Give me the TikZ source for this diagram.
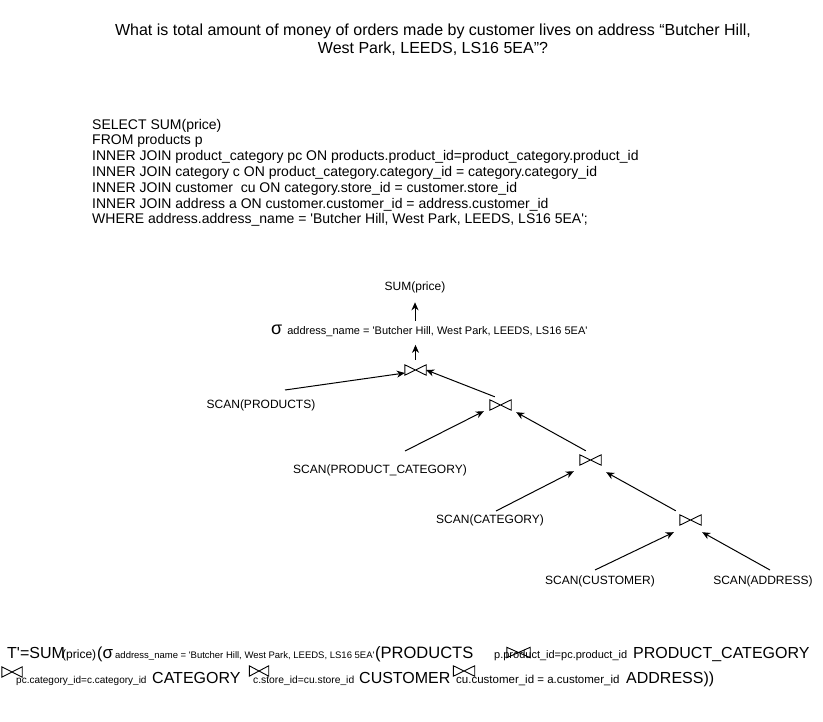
\documentclass[tikz,border=0pt]{standalone}
\usepackage{fontspec}
\setmainfont{Liberation Sans}[Ligatures=TeXOff]
\usetikzlibrary{arrows.meta,calc}
\newcommand{\fs}[1]{\fontsize{#1}{#1}\selectfont}
\begin{document}
\begin{tikzpicture}[x=1pt,y=-1pt,
  lbl/.style={inner sep=0pt, font=\fs{12}},
  ftxt/.style={inner sep=0pt, anchor=base west},
  joinsym/.style={inner sep=0pt, minimum width=21pt, minimum height=10pt},
  arr/.style={-{Stealth[length=8pt,width=7pt,inset=2.5pt]}, line width=1pt},
  tie/.style={line width=0.9pt, line join=miter}]
\useasboundingbox (0,0) rectangle (823,722);
\fill[white] (0,0) rectangle (823,722);

% title
\node[inner sep=0pt, align=center, font=\fontsize{16}{18}\selectfont] (title) at (433,40)
  {What is total amount of money of orders made by customer lives on address “Butcher Hill,\\West Park, LEEDS, LS16 5EA”?};

% SQL
\node[inner sep=0pt, anchor=north west, align=left, font=\fontsize{14}{15.8}\selectfont] (sql) at (92,118.8)
  {SELECT SUM(price)\\
   FROM products p\\
   INNER JOIN product\_category pc ON products.product\_id=product\_category.product\_id\\
   INNER JOIN category c ON product\_category.category\_id = category.category\_id\\
   INNER JOIN customer \ cu ON category.store\_id = customer.store\_id\\
   INNER JOIN address a ON customer.customer\_id = address.customer\_id\\
   WHERE address.address\_name = 'Butcher Hill, West Park, LEEDS, LS16 5EA';};

% tree
\node[lbl] (sum) at (415,287) {SUM(price)};
\node[ftxt] (sel) at (271,334.5) {{\fs{18}σ}\hspace{5pt}{\fs{11}address\_name = 'Butcher Hill, West Park, LEEDS, LS16 5EA'}};
\node[joinsym] (j1) at (415.5,370) {};
\node[joinsym] (j2) at (500.5,405) {};
\node[joinsym] (j3) at (590.5,460) {};
\node[joinsym] (j4) at (690.5,520) {};
\node[lbl] (sp) at (261,405) {SCAN(PRODUCTS)};
\node[lbl] (spc) at (380,470) {SCAN(PRODUCT\_CATEGORY)};
\node[lbl] (scat) at (490,520) {SCAN(CATEGORY)};
\node[lbl] (scu) at (600,581) {SCAN(CUSTOMER)};
\node[lbl] (sad) at (763,581) {SCAN(ADDRESS)};

\draw[arr, shorten <=4pt, shorten >=9.5pt] (sel.north -| sum.south) -- (sum.south);
\draw[arr, shorten <=5pt, shorten >=8pt] (j1.north) -- (sel.south -| j1.north);
\draw[arr] ($(sp.center)+(24,-15)$) -- ($(j1.west)+(0,3)$);
\draw[arr] ($(j2.north west)+(5,-3)$) -- (j1.east);
\draw[arr] ($(spc.center)+(25,-19)$) -- ($(j2.south west)+(-6,1)$);
\draw[arr] ($(j3.north west)+(6,-4)$) -- ($(j2.south east)+(5,2)$);
\draw[arr] ($(scat.center)+(6,-9)$) -- ($(j3.south west)+(-6,6)$);
\draw[arr] ($(j4.north west)+(-4,-4)$) -- ($(j3.south east)+(5,7)$);
\draw[arr] ($(scu.center)+(-5,-11)$) -- ($(j4.south west)+(-6,7)$);
\draw[arr] ($(sad.center)+(7,-11)$) -- ($(j4.south east)+(1,7)$);

% formula line 1
\node[ftxt, font=\fs{16}] (f1) at (7,658) {T'=SUM};
\node[ftxt, font=\fs{12}] (f2) at (62,658) {(price)};
\node[ftxt, font=\fs{16}] (f3) at (97,658) {({\fs{17}σ}};
\node[ftxt, font=\fs{9.5}] (f4) at (115,658) {address\_name = 'Butcher Hill, West Park, LEEDS, LS16 5EA'};
\node[ftxt, font=\fs{16.5}] (f5) at (375,658) {(PRODUCTS};
\node[ftxt, font=\fs{11}] (f6) at (494,658) {p.product\_id=pc.product\_id};
\node[ftxt, font=\fs{16}] (f7) at (633,658) {PRODUCT\_CATEGORY};
% formula line 2
\node[ftxt, font=\fs{10}] (g1) at (16,683) {pc.category\_id=c.category\_id};
\node[ftxt, font=\fs{16}] (g2) at (152,683) {CATEGORY};
\node[ftxt, font=\fs{10.3}] (g3) at (253,683) {c.store\_id=cu.store\_id};
\node[ftxt, font=\fs{16}] (g4) at (359,683) {CUSTOMER};
\node[ftxt, font=\fs{11.5}] (g5) at (456,683) {cu.customer\_id = a.customer\_id};
\node[ftxt, font=\fs{16}] (g6) at (626,683) {ADDRESS))};
\node[joinsym, minimum width=23pt] (b1) at (518.5,652.5) {};
\node[joinsym, minimum width=20pt] (b2) at (12,672) {};
\node[joinsym, minimum width=19pt] (b3) at (259,671) {};
\node[joinsym, minimum width=21pt] (b4) at (464,671) {};

\foreach \j in {j1,j2,j3,j4,b1,b2,b3,b4}
  \draw[tie] (\j.north west) -- (\j.south east) -- (\j.north east) -- (\j.south west) -- cycle;
\end{tikzpicture}
\end{document}
